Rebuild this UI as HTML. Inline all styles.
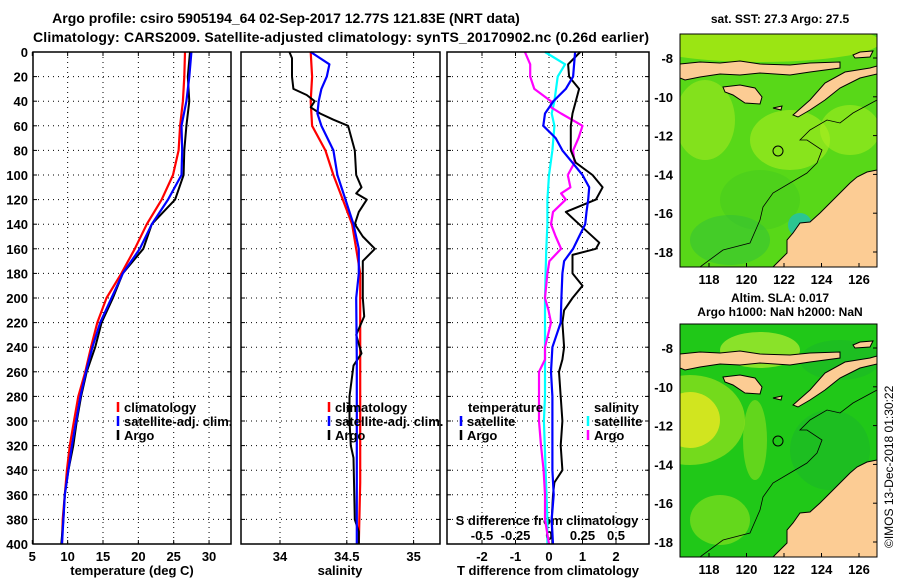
<!DOCTYPE html>
<html><head><meta charset="utf-8"><style>
html,body{margin:0;padding:0;background:#fff;}
svg{display:block;font-family:"Liberation Sans",sans-serif;font-weight:bold;}
</style></head><body>
<svg id="fig" width="900" height="580" viewBox="0 0 900 580" xmlns="http://www.w3.org/2000/svg">
<text x="286" y="23" font-size="14" text-anchor="middle">Argo profile: csiro 5905194_64 02-Sep-2017 12.77S 121.83E (NRT data)</text>
<text x="341" y="42" font-size="14" text-anchor="middle" textLength="616">Climatology: CARS2009. Satellite-adjusted climatology: synTS_20170902.nc (0.26d earlier)</text>
<text x="780" y="23" font-size="12" text-anchor="middle">sat. SST: 27.3 Argo: 27.5</text>
<text x="780" y="302" font-size="12" text-anchor="middle">Altim. SLA: 0.017</text>
<text x="780" y="316" font-size="12" text-anchor="middle">Argo h1000: NaN h2000: NaN</text>
<text transform="translate(893,548) rotate(-90)" font-size="12" font-weight="normal">©IMOS 13-Dec-2018 01:30:22</text>
<g id="plots"></g>
<g id="maps"></g>
</svg>
<script>
// ---- data ----
const depthT = [0,20,40,60,80,100,120,140,160,180,200,220,240,260,280,300,320,340,360,380,400];
const tempClim = [26.6,26.5,26.3,25.9,25.7,24.9,23.3,21.2,19.5,17.6,15.5,14.2,13.3,12.5,11.5,10.9,10.3,9.9,9.6,9.3,9.2];
const tempSat = [27.5,27.2,26.8,26.1,26.2,26.1,24.2,21.9,20.2,17.8,16.2,14.6,13.5,12.6,11.8,11.2,10.6,10.1,9.6,9.4,9.2];
const tempArgo = [27.3,27.0,27.2,26.8,26.5,26.4,25.2,21.9,20.7,17.8,16.4,14.8,13.9,12.7,11.9,11.3,10.8,10.1,9.6,9.4,9.1];
const depthSC = [0,20,40,60,80,100,120,140,160,180,200,250,300,350,400];
const salClim = [34.23,34.24,34.23,34.24,34.34,34.40,34.47,34.54,34.57,34.60,34.60,34.60,34.60,34.60,34.59];
const depthSS = [0,10,20,30,40,50,60,80,100,120,140,160,180,200,250,300,350,400];
const salSat = [34.23,34.37,34.35,34.31,34.29,34.28,34.31,34.40,34.43,34.49,34.55,34.59,34.59,34.57,34.575,34.575,34.575,34.575];
const depthSA = [0,5,20,30,35,40,45,50,55,60,80,100,110,115,120,130,140,150,160,170,180,200,215,230,245,255,280,300,320,330,380,390,400];
const salArgo = [34.07,34.09,34.09,34.10,34.20,34.26,34.23,34.30,34.40,34.51,34.56,34.57,34.61,34.57,34.65,34.59,34.56,34.62,34.71,34.62,34.62,34.62,34.63,34.57,34.61,34.55,34.52,34.52,34.53,34.55,34.56,34.59,34.59];
const depthTD = [0,10,20,30,40,50,60,80,90,100,110,120,130,140,155,160,165,180,190,200,210,220,240,250,260,280,300,320,340,350,360,380,400];
const tdiffArgo = [0.93,0.57,0.6,0.9,0.8,0.7,0.65,0.65,0.8,1.3,1.6,1.4,0.5,0.9,1.5,1.4,0.7,0.7,1.0,0.7,0.45,0.4,0.45,0.4,0.3,0.35,0.4,0.35,0.4,0.16,0.12,0.08,0.1];
const depthTS = [0,20,30,40,50,60,70,80,90,100,110,120,130,140,150,160,170,180,200,220,240,260,280,300,320,340,360,380,400];
const tdiffSat = [0.78,0.72,0.5,0.13,-0.12,-0.17,0.2,0.4,0.7,1.0,1.2,1.17,1.12,1.08,0.9,0.72,0.45,0.4,0.37,0.35,0.1,0.06,0.1,0.1,0.1,0.1,0.14,0.08,0.12];
const depthSDS = [0,10,20,40,50,60,80,100,120,140,160,180,200,240,260,280,300,340,380,400];
const sdiffSat = [-0.03,0.12,0.065,0.04,0.02,0.04,0.025,0,-0.012,-0.012,-0.02,-0.025,-0.03,-0.03,-0.03,-0.03,-0.038,-0.025,-0.012,-0.012];
const depthSDA = [0,10,20,30,40,45,50,60,70,80,90,100,110,115,120,130,140,150,160,170,180,200,210,220,240,250,260,280,300,320,340,360,380,400];
const sdiffArgo = [-0.18,-0.14,-0.14,-0.11,0.015,0.015,0.09,0.25,0.22,0.18,0.19,0.14,0.16,0.09,0.125,0.03,0.015,0.05,0.09,0.003,-0.012,-0.03,-0.004,0.015,-0.03,-0.03,-0.075,-0.075,-0.075,-0.06,-0.04,-0.03,-0.03,0];
const depthTicks = [0,20,40,60,80,100,120,140,160,180,200,220,240,260,280,300,320,340,360,380,400];
const tempTicks = [5,10,15,20,25,30];
const salTicks = [34,34.5,35];
const tdTicks = [-2,-1,0,1,2];
const sdTicks = [-0.5,-0.25,0,0.25,0.5];
const sdTickLabels = ['-0.5','-0.25','0','0.25','0.5'];

const NS='http://www.w3.org/2000/svg';
const plots=document.getElementById('plots');
function mk(tag,attrs,parent){const e=document.createElementNS(NS,tag);for(const k in attrs)e.setAttribute(k,attrs[k]);(parent||plots).appendChild(e);return e;}
const Y0=52,Y1=544;
function yD(d){return Y0+(Y1-Y0)*d/400;}
function xT(t){return 32.3+(t-5)*7.07;}
function xS(s){return 280+(s-34)*133.6;}
function xTD(t){return 549+t*33.5;}
function xSD(s){return 549+s*4*33.5;}

const panels=[{x0:33,x1:231,name:'temperature-panel'},{x0:241,x1:440,name:'salinity-panel'},{x0:447,x1:649,name:'difference-panel'}];
panels.forEach((p,i)=>{
  const g=mk('g',{});
  
  
  depthTicks.forEach(d=>{
    if(d>0&&d<400){const l=mk('line',{x1:p.x0,x2:p.x1,y1:yD(d),y2:yD(d),stroke:'#000','stroke-width':1,'stroke-dasharray':'1,4'},g);
    
    }
    mk('line',{x1:p.x0,x2:p.x0+4,y1:yD(d),y2:yD(d),stroke:'#000'},g);
    mk('line',{x1:p.x1-4,x2:p.x1,y1:yD(d),y2:yD(d),stroke:'#000'},g);
  });
  const xt = i===0?tempTicks.map(xT):i===1?salTicks.map(xS):tdTicks.map(xTD);
  xt.forEach(x=>{
    if(x>p.x0+1&&x<p.x1-1){const l=mk('line',{x1:x,x2:x,y1:Y0,y2:Y1,stroke:'#000','stroke-dasharray':'1,4'},g);
    
    }
    mk('line',{x1:x,x2:x,y1:Y1,y2:Y1-4,stroke:'#000'},g);
    mk('line',{x1:x,x2:x,y1:Y0,y2:Y0+4,stroke:'#000'},g);
  });
});
depthTicks.forEach(d=>{const t=mk('text',{x:28,y:yD(d)+5,'font-size':13,'text-anchor':'end'});t.textContent=d;

});
tempTicks.forEach(v=>{const t=mk('text',{x:xT(v),y:561,'font-size':13,'text-anchor':'middle'});t.textContent=v;

});
salTicks.forEach(v=>{const t=mk('text',{x:xS(v),y:561,'font-size':13,'text-anchor':'middle'});t.textContent=v;

});
tdTicks.forEach(v=>{const t=mk('text',{x:xTD(v),y:561,'font-size':13,'text-anchor':'middle'});t.textContent=v;

});
sdTicks.forEach((v,i)=>{const t=mk('text',{x:xSD(v),y:540,'font-size':13,'text-anchor':'middle'});t.textContent=sdTickLabels[i];

});
[['temperature (deg C)',132,'temperature-axis-title'],['salinity',340,'salinity-axis-title'],['T difference from climatology',548,'tdiff-axis-title']].forEach(a=>{
  const t=mk('text',{x:a[1],y:575,'font-size':13,'text-anchor':'middle'});t.textContent=a[0];
  
  });
const sdt=mk('text',{x:547,y:525,'font-size':13,'text-anchor':'middle'});sdt.textContent='S difference from climatology';



function series(depths,vals,xf,color,name,w){
  const pts=vals.map((v,i)=>xf(v).toFixed(1)+','+yD(depths[i]).toFixed(1)).join(' ');
  const l=mk('polyline',{points:pts,fill:'none',stroke:color,'stroke-width':w||2.2,'stroke-linejoin':'round'});
  
  
}
series(depthT,tempClim,xT,'#ff0000','temperature-climatology-line');
series(depthT,tempArgo,xT,'#000','temperature-argo-line',2);
series(depthT,tempSat,xT,'#0000ff','temperature-satellite-line');
series(depthSC,salClim,xS,'#ff0000','salinity-climatology-line');
series(depthSA,salArgo,xS,'#000','salinity-argo-line',2);
series(depthSS,salSat,xS,'#0000ff','salinity-satellite-line');
series(depthSDS,sdiffSat,xSD,'#00ffff','sdiff-satellite-line');
series(depthSDA,sdiffArgo,xSD,'#ff00ff','sdiff-argo-line');
series(depthTD,tdiffArgo,xTD,'#000','tdiff-argo-line',2);
series(depthTS,tdiffSat,xTD,'#0000ff','tdiff-satellite-line');

panels.forEach(p=>{const r=mk('rect',{x:p.x0,y:Y0,width:p.x1-p.x0,height:Y1-Y0,fill:'none',stroke:'#000','stroke-width':1.5});

});

function legendEntry(x,y,color,label,name){
  const g=mk('g',{});
  
  
  if(color) mk('line',{x1:x,x2:x,y1:y-10,y2:y,stroke:color,'stroke-width':2.5},g);
  const t=mk('text',{x:x+6,y:y,'font-size':13},g);t.textContent=label;
}
[[118,'#ff0000','climatology'],[118,'#0000ff','satellite-adj. clim.'],[118,'#000','Argo']].forEach((e,i)=>legendEntry(e[0],412+i*14,e[1],e[2],'temperature-legend-entry'));
[[329,'#ff0000','climatology'],[329,'#0000ff','satellite-adj. clim.'],[329,'#000','Argo']].forEach((e,i)=>legendEntry(e[0],412+i*14,e[1],e[2],'salinity-legend-entry'));
legendEntry(462,412,null,'temperature','diff-legend-temperature-header');
legendEntry(461,426,'#0000ff','satellite','diff-legend-temperature-satellite');
legendEntry(461,440,'#000','Argo','diff-legend-temperature-argo');
legendEntry(588,412,null,'salinity','diff-legend-salinity-header');
legendEntry(588,426,'#00ffff','satellite','diff-legend-salinity-satellite');
legendEntry(588,440,'#ff00ff','Argo','diff-legend-salinity-argo');

// ---- maps ----
const maps=document.getElementById('maps');
const lonTicks=[118,120,122,124,126];
const latTicks=[-8,-10,-12,-14,-16,-18];
function mapX(lon){return 709+(lon-118)*18.75;}
const land={
 aus:[[877,170],[867,172],[857,177],[850,183],[840,193],[830,203],[820,213],[810,222],[800,223],[793,233],[787,240],[787,253],[780,260],[773,267],[877,267]],
 flores:[[680,64],[700,62],[720,63],[740,61],[760,64],[790,65],[810,63],[840,62],[840,68],[810,72],[790,75],[760,73],[740,75],[720,74],[700,77],[685,80],[680,78]],
 alor:[[853,55],[860,52],[873,51],[870,57],[855,58]],
 sumba:[[723,87],[740,85],[755,88],[762,97],[760,104],[745,103],[733,95],[725,92]],
 timor:[[793,115],[810,100],[825,83],[845,72],[870,68],[877,66],[877,74],[860,78],[840,88],[825,100],[810,110],[798,117]],
 small:[[773,108],[782,106],[781,110]]
};
const contour=[[700,267],[723,250],[750,243],[760,220],[763,207],[773,193],[790,183],[807,173],[817,163],[822,150],[807,140],[800,140],[810,130],[827,120],[840,123],[853,113],[877,100]];
function drawMap(off,name,base,patches){
  const g=document.createElementNS(NS,'g');maps.appendChild(g);
  
  
  const top=34+off,bot=267+off;
  const cid='clip'+off;
  const cp=mk('clipPath',{id:cid},g);mk('rect',{x:680,y:top,width:197,height:bot-top},cp);
  const inner=mk('g',{'clip-path':'url(#'+cid+')'},g);
  mk('rect',{x:680,y:top,width:197,height:bot-top,fill:base},inner);
  patches.forEach(p=>mk('ellipse',{cx:p[0],cy:p[1]+off,rx:p[2],ry:p[3],fill:p[4],opacity:p[5]},inner));
  const pl=(pts)=>pts.map(q=>q[0]+','+(q[1]+off)).join(' ');
  for(const k in land){mk('polygon',{points:pl(land[k]),fill:'#fccc94',stroke:'#000','stroke-width':1},inner);}
  mk('polyline',{points:pl(contour),fill:'none',stroke:'#000','stroke-width':0.8},inner);
  const c=mk('circle',{cx:778,cy:151+off,r:5,fill:'none',stroke:'#000','stroke-width':1},g);
  
  
  mk('rect',{x:680,y:top,width:197,height:bot-top,fill:'none',stroke:'#000','stroke-width':1},g);
  latTicks.forEach(l=>{const y=58+off+(-8-l)*19.4;
    mk('line',{x1:873,x2:877,y1:y,y2:y,stroke:'#000'},g);
    const t=mk('text',{x:673,y:y+5,'font-size':13,'text-anchor':'end'},g);t.textContent=l;
    
    });
  lonTicks.forEach(l=>{const x=mapX(l);
    mk('line',{x1:x,x2:x,y1:bot,y2:bot-4,stroke:'#000'},g);
    const t=mk('text',{x:x,y:bot+17,'font-size':13,'text-anchor':'middle'},g);t.textContent=l;
    
    });
}
drawMap(0,'sst-map','#58d818',[[760,42,120,20,'#c8ee10',0.6],[705,120,30,40,'#a0e820',0.6],[790,140,40,30,'#a8ec20',0.6],[850,130,30,25,'#b0f020',0.5],[760,200,40,30,'#40c820',0.4],[730,240,40,25,'#30c038',0.5],[800,225,12,12,'#20c0b0',0.8]]);
drawMap(290,'sla-map','#20c818',[[690,130,30,28,'#f0e020',0.9],[690,130,55,45,'#c8ec20',0.5],[760,60,40,18,'#b8ec30',0.7],[755,150,12,40,'#90e020',0.6],[720,230,30,25,'#a8e820',0.5],[830,160,40,40,'#18b030',0.4],[840,70,40,20,'#18b030',0.4]]);
</script>
</body></html>
